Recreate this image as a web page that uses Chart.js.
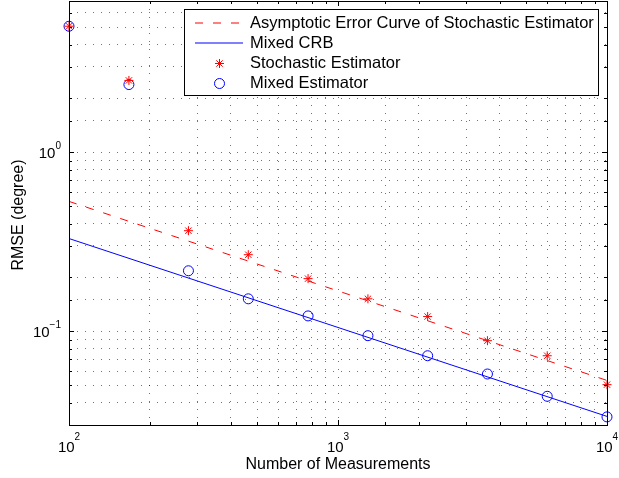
<!DOCTYPE html>
<html>
<head>
<meta charset="utf-8">
<script src="https://cdn.jsdelivr.net/npm/chart.js@4.4.0/dist/chart.umd.min.js"></script>
<style>
  html, body { margin: 0; padding: 0; background: #fff; }
  canvas { display: block; }
</style>
</head>
<body>
<canvas id="chart" width="619" height="478"></canvas>
<script>
// number of measurements (logspace 10^2 .. 10^4)
const measurements = [100, 167, 278, 464, 774, 1292, 2154, 3594, 5995, 10000];
const stochasticRmse = [5.06, 2.52, 0.365, 0.268, 0.197, 0.152, 0.121, 0.0887, 0.0731, 0.0504];
const mixedRmse = [5.06, 2.39, 0.218, 0.152, 0.122, 0.0946, 0.0731, 0.0578, 0.0434, 0.0333];

// straight lines on log-log axes, end points only
const curveN = [100, 10000];
const asymptoticCurve = [0.532, 0.0532];
const mixedCrb = [0.33, 0.0335];

const xTickLabels = [{ v: 100, e: '2' }, { v: 1000, e: '3' }, { v: 10000, e: '4' }];
const yTickLabels = [{ v: 0.1, e: '\u22121' }, { v: 1, e: '0' }];

const legendItems = [
  { text: 'Asymptotic Error Curve of Stochastic Estimator', kind: 'dash', color: '#ff0000' },
  { text: 'Mixed CRB', kind: 'line', color: '#0000ff' },
  { text: 'Stochastic Estimator', kind: 'star', color: '#ff0000' },
  { text: 'Mixed Estimator', kind: 'circle', color: '#0000ff' }
];

const FONT = '"Liberation Sans", Arial, Helvetica, sans-serif';

function toXY(xs, ys) {
  return xs.map((x, i) => ({ x: x, y: ys[i] }));
}

function isDecade(v) {
  const l = Math.log10(v);
  return Math.abs(l - Math.round(l)) < 1e-9;
}

function drawStar(ctx, x, y, r) {
  const d = r * Math.SQRT1_2;
  ctx.beginPath();
  ctx.moveTo(x - r, y); ctx.lineTo(x + r, y);
  ctx.moveTo(x, y - r); ctx.lineTo(x, y + r);
  ctx.moveTo(x - d, y - d); ctx.lineTo(x + d, y + d);
  ctx.moveTo(x - d, y + d); ctx.lineTo(x + d, y - d);
  ctx.stroke();
}

// box, tick marks, power-of-ten labels, titles and legend
const matlabAxes = {
  id: 'matlabAxes',
  afterDraw(chart) {
    const ctx = chart.ctx;
    const area = chart.chartArea;
    const xs = chart.scales.x;
    const ys = chart.scales.y;
    ctx.save();
    ctx.strokeStyle = '#000';
    ctx.lineWidth = 1;
    ctx.setLineDash([]);

    // tick marks on all four sides
    ctx.beginPath();
    xs.ticks.forEach(t => {
      const px = Math.round(xs.getPixelForValue(t.value)) + 0.5;
      const len = isDecade(t.value) ? 5 : 3;
      ctx.moveTo(px, area.bottom); ctx.lineTo(px, area.bottom - len);
      ctx.moveTo(px, area.top); ctx.lineTo(px, area.top + len);
    });
    ys.ticks.forEach(t => {
      const py = Math.round(ys.getPixelForValue(t.value)) + 0.5;
      const len = isDecade(t.value) ? 5 : 3;
      ctx.moveTo(area.left, py); ctx.lineTo(area.left + len, py);
      ctx.moveTo(area.right, py); ctx.lineTo(area.right - len, py);
    });
    ctx.stroke();

    // box
    ctx.strokeRect(Math.round(area.left) + 0.5, Math.round(area.top) + 0.5,
      Math.round(area.right - area.left), Math.round(area.bottom - area.top));

    // tick labels
    ctx.fillStyle = '#000';
    ctx.textBaseline = 'alphabetic';
    xTickLabels.forEach(t => {
      const px = xs.getPixelForValue(t.v);
      ctx.font = '15px ' + FONT;
      const wb = ctx.measureText('10').width;
      ctx.font = '10px ' + FONT;
      const we = ctx.measureText(t.e).width;
      const x0 = px - (wb + we) / 2;
      ctx.textAlign = 'left';
      ctx.font = '15px ' + FONT;
      ctx.fillText('10', x0, 452);
      ctx.font = '10px ' + FONT;
      ctx.fillText(t.e, x0 + wb, 440);
    });
    yTickLabels.forEach(t => {
      const py = ys.getPixelForValue(t.v);
      ctx.font = '10px ' + FONT;
      const we = ctx.measureText(t.e).width;
      const right = area.left - 8;
      ctx.textAlign = 'right';
      ctx.fillText(t.e, right, py - 3);
      ctx.font = '15px ' + FONT;
      ctx.fillText('10', right - we, py + 6);
    });

    // axis titles
    ctx.font = '16px ' + FONT;
    ctx.textAlign = 'center';
    ctx.textBaseline = 'middle';
    ctx.fillText('Number of Measurements', (area.left + area.right) / 2, 465);
    ctx.save();
    ctx.translate(19, 215);
    ctx.rotate(-Math.PI / 2);
    ctx.fillText('RMSE (degree)', 0, 0);
    ctx.restore();

    // legend box
    const lx = 184.5, ly = 9.5, lw = 414, lh = 86;
    ctx.fillStyle = '#fff';
    ctx.fillRect(lx, ly, lw, lh);
    ctx.strokeStyle = '#000';
    ctx.strokeRect(lx, ly, lw, lh);
    legendItems.forEach((it, i) => {
      const cy = 23 + i * 20;
      ctx.lineWidth = 1;
      ctx.strokeStyle = it.color;
      if (it.kind === 'dash' || it.kind === 'line') {
        ctx.setLineDash(it.kind === 'dash' ? [8, 10] : []);
        ctx.beginPath();
        ctx.moveTo(195, cy); ctx.lineTo(243, cy);
        ctx.stroke();
        ctx.setLineDash([]);
      } else if (it.kind === 'star') {
        drawStar(ctx, 219.5, cy + 0.5, 4.5);
      } else {
        ctx.beginPath();
        ctx.arc(219.5, cy + 0.5, 5, 0, Math.PI * 2);
        ctx.stroke();
      }
      ctx.fillStyle = '#000';
      ctx.textAlign = 'left';
      ctx.textBaseline = 'middle';
      ctx.font = '16.5px ' + FONT;
      ctx.fillText(it.text, 250, cy + 0.5);
    });
    ctx.restore();
  }
};

const gridOpts = { color: 'rgba(0,0,0,0.55)', lineWidth: 1, drawTicks: false };

const ctx = document.getElementById('chart').getContext('2d');
new Chart(ctx, {
  type: 'scatter',
  data: {
    datasets: [
      {
        label: 'Asymptotic Error Curve of Stochastic Estimator',
        data: toXY(curveN, asymptoticCurve),
        showLine: true,
        borderColor: '#ff0000',
        borderWidth: 1,
        borderDash: [8, 10],
        pointRadius: 0
      },
      {
        label: 'Mixed CRB',
        data: toXY(curveN, mixedCrb),
        showLine: true,
        borderColor: '#0000ff',
        borderWidth: 1,
        pointRadius: 0
      },
      {
        label: 'Stochastic Estimator',
        data: toXY(measurements, stochasticRmse),
        showLine: false,
        clip: false,
        pointStyle: 'star',
        pointRadius: 4.5,
        borderColor: '#ff0000',
        borderWidth: 1
      },
      {
        label: 'Mixed Estimator',
        data: toXY(measurements, mixedRmse),
        showLine: false,
        clip: false,
        pointStyle: 'circle',
        pointRadius: 5,
        borderColor: '#0000ff',
        backgroundColor: 'rgba(0,0,0,0)',
        borderWidth: 1
      }
    ]
  },
  options: {
    responsive: false,
    animation: false,
    layout: { autoPadding: false, padding: { left: 69, right: 12, top: 1, bottom: 53 } },
    plugins: { legend: { display: false }, tooltip: { enabled: false } },
    scales: {
      x: {
        type: 'logarithmic', min: 100, max: 10000,
        ticks: { display: false },
        grid: gridOpts,
        border: { display: false, dash: [1, 7] }
      },
      y: {
        type: 'logarithmic', min: 0.03, max: 7,
        ticks: { display: false },
        grid: gridOpts,
        border: { display: false, dash: [1, 7] }
      }
    }
  },
  plugins: [matlabAxes]
});
</script>
</body>
</html>
